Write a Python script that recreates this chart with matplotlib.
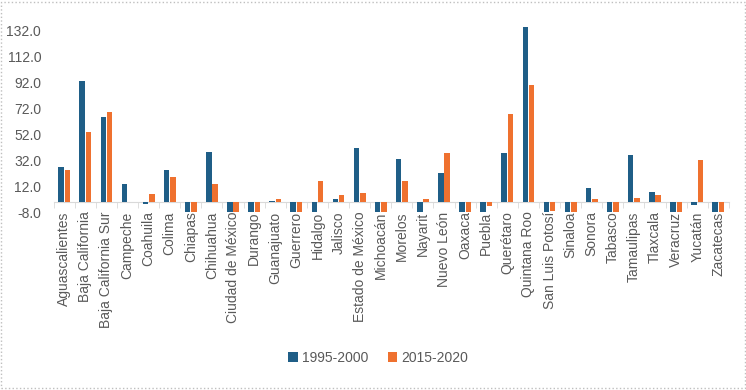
import numpy as np
import matplotlib.pyplot as plt
from matplotlib.patches import Rectangle

# =========================
# Data
# =========================

estados = [
    "Aguascalientes", "Baja California", "Baja California Sur", "Campeche",
    "Coahuila", "Colima", "Chiapas", "Chihuahua", "Ciudad de México",
    "Durango", "Guanajuato", "Guerrero", "Hidalgo", "Jalisco",
    "Estado de México", "Michoacán", "Morelos", "Nayarit", "Nuevo León",
    "Oaxaca", "Puebla", "Querétaro", "Quintana Roo", "San Luis Potosí",
    "Sinaloa", "Sonora", "Tabasco", "Tamaulipas", "Tlaxcala", "Veracruz",
    "Yucatán", "Zacatecas",
]

serie_1995_2000 = [
    26.4, 93.0, 65.5, 13.7, -1.7, 24.3, -9.0, 38.0, -9.0, -9.0,
    0.9, -9.0, -9.0, 1.9, 41.3, -9.0, 32.8, -9.0, 22.2, -9.0,
    -9.0, 37.2, 134.2, -9.0, -9.0, 10.4, -9.0, 35.9, 7.3, -9.0,
    -2.7, -9.0,
]

serie_2015_2020 = [
    24.3, 53.9, 68.9, 0.0, 5.6, 18.9, -9.0, 13.7, -9.0, -9.0,
    1.9, -9.0, 15.8, 5.3, 6.6, -9.0, 15.8, 1.9, 37.2, -9.0,
    -3.2, 67.6, 90.0, -6.8, -9.0, 1.9, -9.0, 3.2, 5.3, -9.0,
    31.8, -9.0,
]

series_labels = ["1995-2000", "2015-2020"]
y_ticks = [-8.0, 12.0, 32.0, 52.0, 72.0, 92.0, 112.0, 132.0]

AZUL = "#1F5E87"
NARANJA = "#EF712F"
GRIS = "#595959"

plt.rcParams["font.family"] = ["Liberation Sans", "DejaVu Sans"]

# =========================
# Figure
# =========================

fig = plt.figure(figsize=(7.46, 3.90), dpi=100)
ax = fig.add_axes([0.072, 0.456, 0.905, 0.50])

x = np.arange(len(estados))
ancho = 0.26

ax.bar(x - ancho / 2 - 0.02, serie_1995_2000, width=ancho, color=AZUL,
       label=series_labels[0], zorder=3)
ax.bar(x + ancho / 2 + 0.02, serie_2015_2020, width=ancho, color=NARANJA,
       label=series_labels[1], zorder=3)

ax.set_xlim(-0.5, len(estados) - 0.5)
ax.set_ylim(-8, 142)

ax.set_yticks(y_ticks)
ax.set_yticklabels([f"{v:.1f}" for v in y_ticks], color=GRIS, fontsize=10)
ax.tick_params(axis="y", length=0, pad=9)

# Category axis crosses at zero, labels sit just under it
ax.spines["bottom"].set_position(("data", 0))
ax.spines["bottom"].set_color("#D9D9D9")
for s in ["left", "right", "top"]:
    ax.spines[s].set_visible(False)

ax.set_xticks(x)
ax.set_xticklabels(estados, rotation=90, color=GRIS, fontsize=10)
ax.set_xticks(np.arange(-0.5, len(estados), 1), minor=True)
ax.tick_params(axis="x", which="major", length=0, pad=7)
ax.tick_params(axis="x", which="minor", length=4, color="#D9D9D9")

ax.legend(
    loc="center",
    bbox_to_anchor=(0.507, 0.082),
    bbox_transform=fig.transFigure,
    ncol=2,
    frameon=False,
    fontsize=10,
    labelcolor=GRIS,
    handlelength=0.7,
    handleheight=0.7,
    handletextpad=0.3,
    columnspacing=1.4,
)

# Dotted frame around the chart
fig.patches.append(Rectangle((0.002, 0.004), 0.996, 0.992, transform=fig.transFigure,
                             fill=False, edgecolor="#BFBFBF", linestyle=":", linewidth=1))

fig.savefig("out.png", dpi=100)
plt.close(fig)
